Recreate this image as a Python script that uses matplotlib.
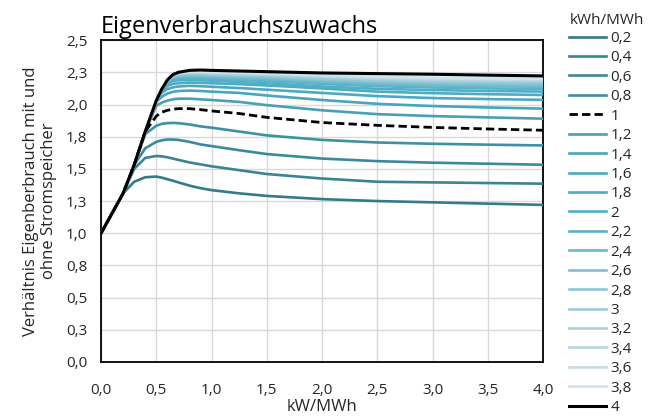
import matplotlib
matplotlib.use('Agg')
import matplotlib.pyplot as plt

plt.rcParams['font.family'] = ['Open Sans', 'DejaVu Sans']

# x positions (kW/MWh)
xs = [0, 0.1, 0.2, 0.3, 0.4, 0.5, 0.55, 0.6, 0.65, 0.7, 0.8, 0.9, 1.0, 1.25, 1.5, 2.0, 2.5, 3.0, 3.5, 4.0]

# ratio values, one list per storage size (kWh/MWh)
s02 = [1.0, 1.155, 1.31, 1.40, 1.435, 1.44, 1.432, 1.42, 1.408, 1.395, 1.37, 1.35, 1.335, 1.31, 1.29, 1.265, 1.25, 1.24, 1.23, 1.22]
s04 = [1.0, 1.155, 1.31, 1.50, 1.585, 1.60, 1.597, 1.59, 1.58, 1.57, 1.55, 1.535, 1.52, 1.49, 1.46, 1.425, 1.40, 1.395, 1.39, 1.385]
s06 = [1.0, 1.155, 1.31, 1.53, 1.66, 1.71, 1.722, 1.728, 1.728, 1.725, 1.71, 1.69, 1.677, 1.645, 1.615, 1.58, 1.56, 1.548, 1.54, 1.532]
s08 = [1.0, 1.155, 1.31, 1.53, 1.77, 1.835, 1.85, 1.855, 1.857, 1.855, 1.845, 1.83, 1.82, 1.79, 1.76, 1.725, 1.705, 1.695, 1.688, 1.682]
s10 = [1.0, 1.155, 1.31, 1.53, 1.79, 1.91, 1.94, 1.955, 1.964, 1.968, 1.968, 1.96, 1.95, 1.93, 1.90, 1.86, 1.838, 1.822, 1.81, 1.80]
s12 = [1.0, 1.155, 1.31, 1.53, 1.79, 1.99, 2.015, 2.03, 2.04, 2.045, 2.045, 2.04, 2.035, 2.02, 1.995, 1.955, 1.925, 1.91, 1.90, 1.89]
s14 = [1.0, 1.155, 1.31, 1.53, 1.79, 2.02, 2.06, 2.085, 2.098, 2.105, 2.108, 2.105, 2.10, 2.09, 2.07, 2.035, 2.005, 1.988, 1.977, 1.968]
s16 = [1.0, 1.155, 1.31, 1.53, 1.79, 2.03, 2.09, 2.12, 2.133, 2.14, 2.145, 2.142, 2.138, 2.128, 2.115, 2.09, 2.065, 2.05, 2.042, 2.036]
s18 = [1.0, 1.155, 1.31, 1.53, 1.79, 2.03, 2.10, 2.145, 2.16, 2.165, 2.17, 2.168, 2.165, 2.158, 2.148, 2.125, 2.10, 2.088, 2.08, 2.074]
s20 = [1.0, 1.155, 1.31, 1.53, 1.79, 2.03, 2.11, 2.165, 2.182, 2.188, 2.19, 2.188, 2.185, 2.175, 2.165, 2.14, 2.122, 2.112, 2.105, 2.10]
s22 = [1.0, 1.155, 1.31, 1.53, 1.79, 2.03, 2.115, 2.175, 2.196, 2.203, 2.205, 2.203, 2.20, 2.192, 2.182, 2.16, 2.142, 2.132, 2.125, 2.12]
s24 = [1.0, 1.155, 1.31, 1.53, 1.79, 2.03, 2.118, 2.18, 2.206, 2.215, 2.217, 2.215, 2.212, 2.205, 2.196, 2.175, 2.158, 2.148, 2.142, 2.137]
s26 = [1.0, 1.155, 1.31, 1.53, 1.79, 2.03, 2.12, 2.183, 2.214, 2.224, 2.227, 2.226, 2.223, 2.216, 2.208, 2.188, 2.172, 2.162, 2.156, 2.151]
s28 = [1.0, 1.155, 1.31, 1.53, 1.79, 2.03, 2.12, 2.186, 2.22, 2.232, 2.235, 2.234, 2.231, 2.225, 2.217, 2.198, 2.183, 2.173, 2.168, 2.163]
s30 = [1.0, 1.155, 1.31, 1.53, 1.79, 2.03, 2.12, 2.188, 2.225, 2.237, 2.241, 2.24, 2.237, 2.231, 2.224, 2.206, 2.192, 2.183, 2.177, 2.173]
s32 = [1.0, 1.155, 1.31, 1.53, 1.79, 2.03, 2.12, 2.189, 2.228, 2.241, 2.246, 2.245, 2.242, 2.237, 2.23, 2.213, 2.199, 2.19, 2.185, 2.181]
s34 = [1.0, 1.155, 1.31, 1.53, 1.79, 2.03, 2.12, 2.19, 2.23, 2.244, 2.25, 2.249, 2.247, 2.242, 2.235, 2.219, 2.205, 2.197, 2.192, 2.188]
s36 = [1.0, 1.155, 1.31, 1.53, 1.79, 2.03, 2.12, 2.19, 2.231, 2.246, 2.253, 2.252, 2.25, 2.245, 2.239, 2.224, 2.211, 2.203, 2.198, 2.194]
s38 = [1.0, 1.155, 1.31, 1.53, 1.79, 2.03, 2.12, 2.19, 2.232, 2.248, 2.256, 2.255, 2.253, 2.248, 2.243, 2.229, 2.216, 2.208, 2.204, 2.20]
s40 = [1.0, 1.155, 1.31, 1.53, 1.79, 2.03, 2.12, 2.19, 2.232, 2.25, 2.265, 2.268, 2.265, 2.26, 2.255, 2.245, 2.24, 2.235, 2.228, 2.222]

series = [s02, s04, s06, s08, s10, s12, s14, s16, s18, s20,
          s22, s24, s26, s28, s30, s32, s34, s36, s38, s40]
labels = ['0,2', '0,4', '0,6', '0,8', '1', '1,2', '1,4', '1,6', '1,8', '2',
          '2,2', '2,4', '2,6', '2,8', '3', '3,2', '3,4', '3,6', '3,8', '4']
colors = ['#357a88', '#3a8494', '#3b8a9c', '#3e90a3', 'black', '#48a0b6', '#48a5bd',
          '#4aaac4', '#4cacc6', '#50afc8', '#58b2ca', '#6bb8cc', '#7fc0d2', '#8ec6d6',
          '#9ccbd9', '#a8d0dc', '#b5d7e1', '#c1dde6', '#cde4eb', 'black']

ytick_vals = [0, 0.25, 0.5, 0.75, 1.0, 1.25, 1.5, 1.75, 2.0, 2.25, 2.5]
ytick_labels = ['0,0', '0,3', '0,5', '0,8', '1,0', '1,3', '1,5', '1,8', '2,0', '2,3', '2,5']
xtick_vals = [0, 0.5, 1.0, 1.5, 2.0, 2.5, 3.0, 3.5, 4.0]
xtick_labels = ['0,0', '0,5', '1,0', '1,5', '2,0', '2,5', '3,0', '3,5', '4,0']

txt = '#262626'

fig = plt.figure(figsize=(6.53, 4.18), dpi=100)
ax = fig.add_axes([0.1547, 0.134, 0.677, 0.770])

for i in range(len(series)):
    if labels[i] == '1':
        ax.plot(xs, series[i], color='black', lw=2.0, ls=(0, (3, 1.5)), label=labels[i], zorder=4)
    elif labels[i] == '4':
        ax.plot(xs, series[i], color='black', lw=2.2, label=labels[i], zorder=5)
    else:
        ax.plot(xs, series[i], color=colors[i], lw=1.9, label=labels[i], zorder=3)

ax.set_xlim(0, 4)
ax.set_ylim(0, 2.5)
ax.set_xticks(xtick_vals)
ax.set_xticklabels(xtick_labels)
ax.set_yticks(ytick_vals)
ax.set_yticklabels(ytick_labels)
ax.tick_params(length=0, labelsize=11, labelcolor=txt)
ax.tick_params(axis='x', pad=15)
ax.tick_params(axis='y', pad=10)
ax.grid(color='#d9d9d9', lw=1)
ax.set_axisbelow(True)
for sp in ax.spines.values():
    sp.set_color('black')
    sp.set_linewidth(1.3)

ax.set_xlabel('kW/MWh', fontsize=12, color=txt, labelpad=1)
ax.set_ylabel('Verhältnis Eigenberbrauch mit und\nohne Stromspeicher', fontsize=12, color=txt, labelpad=6)
ax.set_title('Eigenverbrauchszuwachs', loc='left', fontsize=17, color='black', pad=5)

fig.text(0.873, 0.952, 'kWh/MWh', fontsize=11, color=txt, va='center', ha='left')
leg = fig.legend(loc='upper left', bbox_to_anchor=(0.8714, 0.926), frameon=False,
                 fontsize=11, handlelength=2.4, handletextpad=0.3, labelspacing=0.29,
                 borderaxespad=0, borderpad=0)
for t in leg.get_texts():
    t.set_color(txt)

fig.savefig('out.png', dpi=100)
